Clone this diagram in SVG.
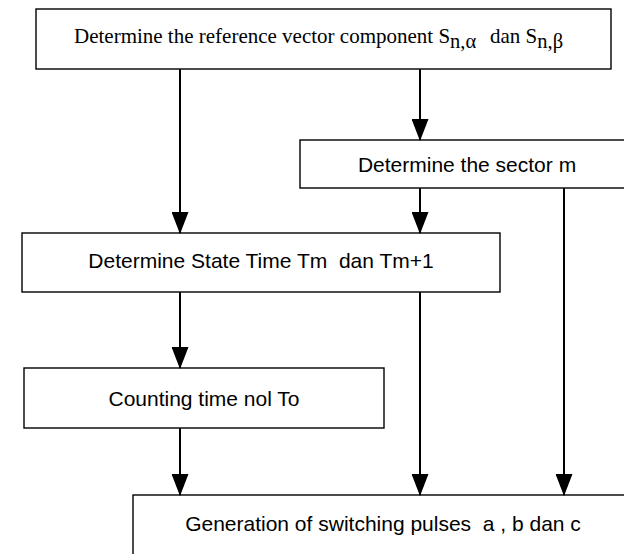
<svg xmlns="http://www.w3.org/2000/svg" width="624" height="554" viewBox="0 0 624 554">
<defs>
<style>
.box{fill:#fff;stroke:#000;stroke-width:1.4}
.sans{font-family:"Liberation Sans",Arial,sans-serif;font-size:21px;fill:#000}
.serif{font-family:"Liberation Serif","Times New Roman",serif;font-size:21px;fill:#000}
.conn line{stroke:#000;stroke-width:2;marker-end:url(#arr)}
</style>
<marker id="arr" markerUnits="userSpaceOnUse" markerWidth="22" markerHeight="17" refX="21" refY="8.5" orient="auto">
<path d="M0,0 L22,8.5 L0,17 Z" fill="#000"/>
</marker>
</defs>
<rect width="624" height="554" fill="#fff"/>
<g id="n1">
<rect class="box" x="36" y="9" width="575" height="60"/>
<text class="serif" y="43"><tspan x="74">Determine the reference vector component S</tspan><tspan font-size="20.5" dy="4.5">n,α</tspan><tspan x="490" dy="-4.5">dan S</tspan><tspan font-size="20.5" dy="4.5">n,β</tspan></text>
</g>
<g id="n2">
<rect class="box" x="300" y="140" width="340" height="48"/>
<text class="sans" x="467" y="171.5" text-anchor="middle">Determine the sector m</text>
</g>
<g id="n3">
<rect class="box" x="22" y="233" width="478" height="59"/>
<text class="sans" x="261" y="268" text-anchor="middle" xml:space="preserve">Determine State Time Tm  dan Tm+1</text>
</g>
<g id="n4">
<rect class="box" x="24" y="368" width="360" height="60"/>
<text class="sans" x="204" y="406" text-anchor="middle" font-size="21.3">Counting time nol To</text>
</g>
<g id="n5">
<rect class="box" x="133" y="495" width="520" height="80"/>
<text class="sans" x="383" y="530.5" text-anchor="middle" xml:space="preserve">Generation of switching pulses  a , b dan c</text>
</g>
<g id="connectors" class="conn">
<line x1="180" y1="69" x2="180" y2="233"/>
<line x1="420" y1="69" x2="420" y2="140"/>
<line x1="420" y1="188" x2="420" y2="233"/>
<line x1="564" y1="188" x2="564" y2="495"/>
<line x1="180" y1="292" x2="180" y2="368"/>
<line x1="420" y1="292" x2="420" y2="495"/>
<line x1="180" y1="428" x2="180" y2="495"/>
</g>
</svg>
